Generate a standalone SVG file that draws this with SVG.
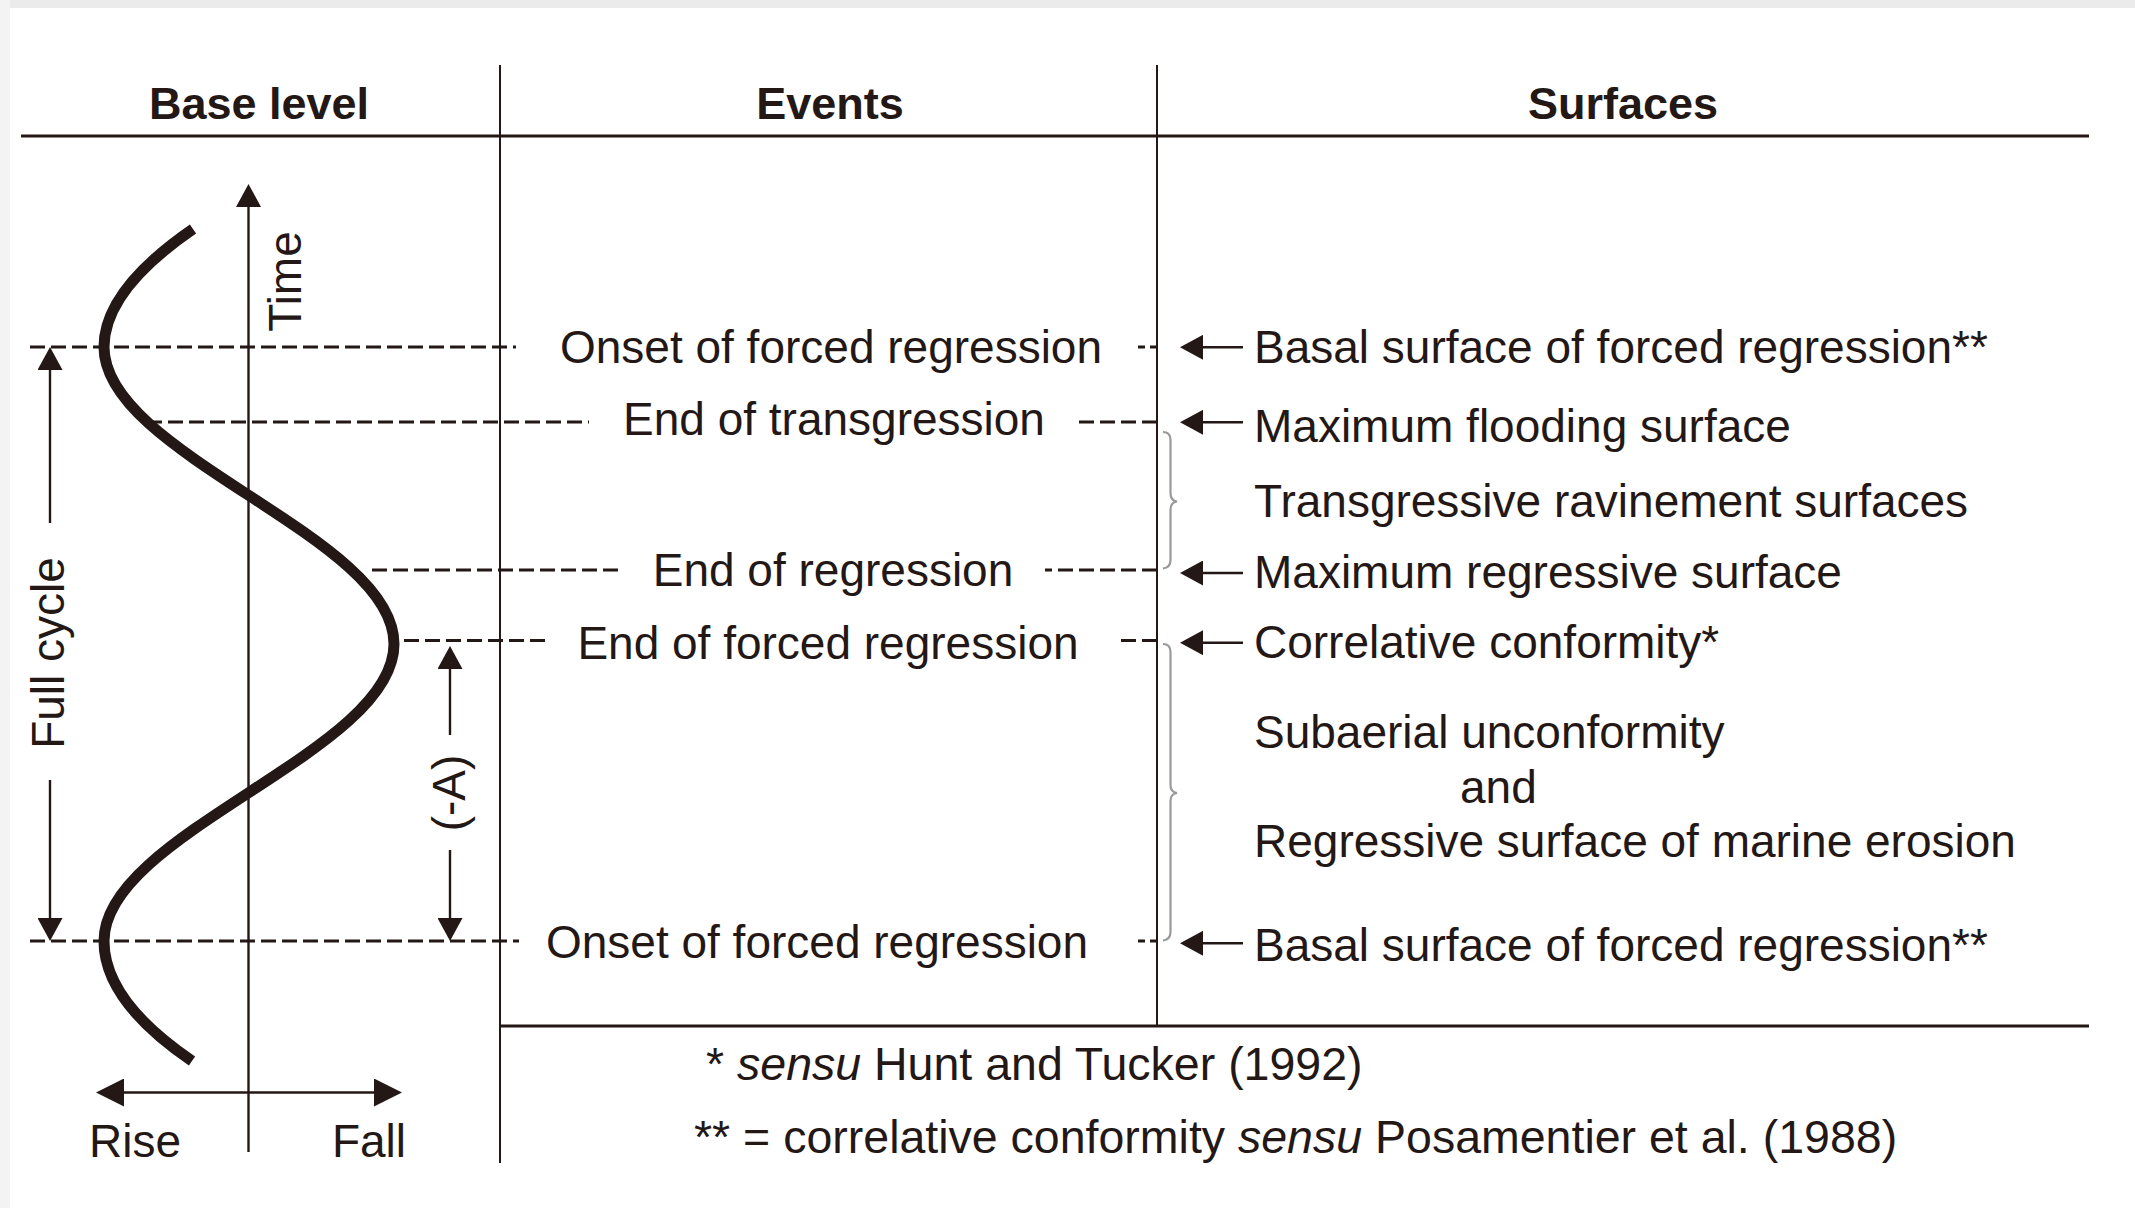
<svg xmlns="http://www.w3.org/2000/svg" width="2135" height="1208" viewBox="0 0 2135 1208">
<style>
.t{font-family:"Liberation Sans",Arial,sans-serif;font-size:46px;fill:#231815}
.f{font-size:46.5px}
.h{font-family:"Liberation Sans",Arial,sans-serif;font-size:45px;font-weight:bold;fill:#231815}
.m{text-anchor:middle}
.rule{stroke:#231815;fill:none}
.dash{stroke:#231815;stroke-width:3;stroke-dasharray:15 6;fill:none}
.short{stroke-dasharray:7 5}
.arr{stroke:#231815;stroke-width:2.4;fill:none}
.brace{stroke:#9a9a9a;stroke-width:2.2;fill:none}
</style>
<defs>
<marker id="ah" markerUnits="userSpaceOnUse" markerWidth="23" markerHeight="25" viewBox="0 0 23 25" refX="0" refY="12.5" orient="auto-start-reverse"><path d="M0,0 L23,12.5 L0,25 z" fill="#231815"/></marker>
<marker id="ahL" markerUnits="userSpaceOnUse" markerWidth="28" markerHeight="28" viewBox="0 0 28 28" refX="0" refY="14" orient="auto-start-reverse"><path d="M0,0 L28,14 L0,28 z" fill="#231815"/></marker>
</defs>
<rect x="0" y="0" width="2135" height="1208" fill="#ffffff"/>
<rect x="0" y="0" width="2135" height="8" fill="#ebebeb"/>
<rect x="0" y="0" width="10" height="1208" fill="#f3f3f3"/>

<g id="table">
<line class="rule" x1="21" y1="136" x2="2089" y2="136" stroke-width="3.2"/>
<line class="rule" x1="500" y1="65" x2="500" y2="1163" stroke-width="2"/>
<line class="rule" x1="1157" y1="65" x2="1157" y2="1026" stroke-width="2"/>
<line class="rule" x1="500" y1="1026" x2="2089" y2="1026" stroke-width="3.2"/>
</g>

<g id="headers">
<text class="h m" x="259" y="119">Base level</text>
<text class="h m" x="830" y="119">Events</text>
<text class="h m" x="1623" y="119">Surfaces</text>
</g>

<g id="base-level">
<path id="curve" d="M193,229 C135.8,268.33 104,307.67 104,347 C104,400.74 174.72,447.07 249,495.5 C323.28,543.93 394,590.26 394,644 C394,697.74 323.28,744.07 249,792.5 C174.72,840.93 104,887.26 104,941 C104,981 133.4,1021 192,1061" stroke="#231815" stroke-width="11" fill="none"/>
<text class="t m" transform="translate(301,281.5) rotate(-90)">Time</text>
<text class="t m" transform="translate(64,653) rotate(-90)">Full cycle</text>
<text class="t m" transform="translate(465,793) rotate(-90)">(-A)</text>
<text class="t m" x="135" y="1157">Rise</text>
<text class="t m" x="369" y="1157">Fall</text>
</g>

<g id="events">
<text class="t m" x="831" y="363">Onset of forced regression</text>
<text class="t m" x="834" y="435">End of transgression</text>
<text class="t m" x="833" y="586">End of regression</text>
<text class="t m" x="828" y="659">End of forced regression</text>
<text class="t m" x="817" y="958">Onset of forced regression</text>
</g>

<g id="surfaces">
<text class="t" x="1254" y="363">Basal surface of forced regression**</text>
<text class="t" x="1254" y="442">Maximum flooding surface</text>
<text class="t" x="1254" y="517">Transgressive ravinement surfaces</text>
<text class="t" x="1254" y="588">Maximum regressive surface</text>
<text class="t" x="1254" y="658">Correlative conformity*</text>
<text class="t" x="1254" y="748">Subaerial unconformity</text>
<text class="t" x="1460" y="803">and</text>
<text class="t" x="1254" y="857">Regressive surface of marine erosion</text>
<text class="t" x="1254" y="961">Basal surface of forced regression**</text>
</g>

<g id="footnotes">
<text class="t f" x="706" y="1080">* <tspan font-style="italic">sensu</tspan> Hunt and Tucker (1992)</text>
<text class="t f" x="694" y="1153">** = correlative conformity <tspan font-style="italic">sensu</tspan> Posamentier et al. (1988)</text>
</g>

<g id="connectors">
<path class="arr" d="M248.5,1152 V207" marker-end="url(#ah)"/>
<path class="arr" d="M50,523 V370" marker-end="url(#ah)"/>
<path class="arr" d="M50,780 V918" marker-end="url(#ah)"/>
<path class="arr" d="M450,735 V669" marker-end="url(#ah)"/>
<path class="arr" d="M450,850 V918" marker-end="url(#ah)"/>
<path class="arr" d="M124,1092.5 H374" stroke-width="3.2" marker-start="url(#ahL)" marker-end="url(#ahL)"/>

<path class="dash" d="M30,347 H516"/>
<path class="dash short" d="M1157,347 H1137"/>
<path class="dash" d="M147,422 H589"/>
<path class="dash" d="M1157,422 H1074"/>
<path class="dash" d="M372,570 H621"/>
<path class="dash" d="M1157,570 H1045"/>
<path class="dash" d="M404,640.5 H547"/>
<path class="dash" d="M1157,640.5 H1116"/>
<path class="dash" d="M30,941 H519"/>
<path class="dash short" d="M1157,941 H1136"/>

<path class="arr" d="M1243,347.3 H1203" stroke-width="2.8" marker-end="url(#ah)"/>
<path class="arr" d="M1243,422.3 H1203" stroke-width="2.8" marker-end="url(#ah)"/>
<path class="arr" d="M1243,573 H1203" stroke-width="2.8" marker-end="url(#ah)"/>
<path class="arr" d="M1243,642.7 H1203" stroke-width="2.8" marker-end="url(#ah)"/>
<path class="arr" d="M1243,943.3 H1203" stroke-width="2.8" marker-end="url(#ah)"/>

<path class="brace" d="M1163,432 C1167,432 1170.5,434 1170.5,440 L1170.5,493 C1170.5,498 1173,501 1177,501.5 C1173,502 1170.5,505 1170.5,510 L1170.5,560 C1170.5,566 1167,568 1163,568.5"/>
<path class="brace" d="M1163,644 C1167,644 1170.5,646 1170.5,652 L1170.5,785 C1170.5,790 1173,792.5 1177,793 C1173,793.5 1170.5,796 1170.5,801 L1170.5,932 C1170.5,938 1167,940 1163,940.5"/>
</g>
</svg>
